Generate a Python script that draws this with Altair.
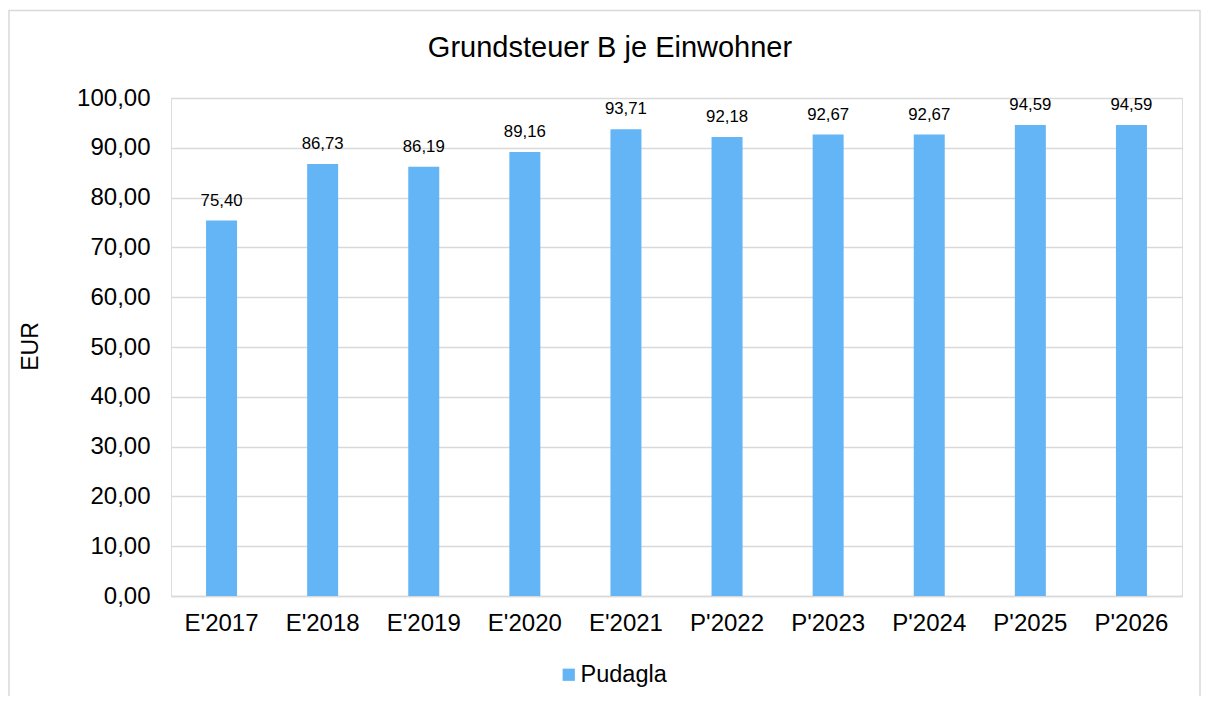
import altair as alt
import pandas as pd

categories = ["E'2017", "E'2018", "E'2019", "E'2020", "E'2021",
              "P'2022", "P'2023", "P'2024", "P'2025", "P'2026"]
values = [75.40, 86.73, 86.19, 89.16, 93.71, 92.18, 92.67, 92.67, 94.59, 94.59]
series = ["Pudagla"] * len(categories)

df = pd.DataFrame({"Jahr": categories, "Wert": values, "Serie": series})

FONT = "Liberation Sans"
W, H = 1011, 498
PL, PT, PR, PB = 163, 90, 20, 100
BLUE = "#64B5F6"
GRID = "#D9D9D9"

base = alt.Chart(df)

bars = base.mark_bar(size=31, color=BLUE).encode(
    x=alt.X("Jahr:N", sort=categories, title=None,
            scale=alt.Scale(paddingInner=0, paddingOuter=0),
            axis=alt.Axis(labelAngle=0, labelFontSize=24, labelFont=FONT,
                          labelColor="#000000", labelPadding=15, ticks=False,
                          domain=True, domainColor=GRID, domainWidth=1.5,
                          grid=False)),
    y=alt.Y("Wert:Q", title="EUR",
            scale=alt.Scale(domain=[0, 100], nice=False),
            axis=alt.Axis(values=list(range(0, 101, 10)),
                          labelExpr="replace(format(datum.value, '.2f'), '.', ',')",
                          labelFontSize=24, labelFont=FONT, labelColor="#000000",
                          labelPadding=21, ticks=False, domain=False,
                          grid=True, gridColor=GRID, gridWidth=1.5,
                          titleFontSize=23, titleFont=FONT, titleFontWeight="normal",
                          titleColor="#000000", titleX=-141, titleY=248,
                          titleAngle=-90, titleAlign="center", titleBaseline="middle")),
    color=alt.Color("Serie:N", scale=alt.Scale(domain=["Pudagla"], range=[BLUE]),
                    legend=alt.Legend(title=None, orient="none", legendX=386, legendY=565,
                                      symbolType="square", symbolSize=150,
                                      symbolStrokeWidth=0, labelFontSize=23.5,
                                      labelFont=FONT, labelColor="#000000",
                                      padding=0, labelOffset=0)),
)

labels = base.transform_calculate(
    lab="replace(format(datum.Wert, '.2f'), '.', ',')"
).mark_text(font=FONT, fontSize=16.8, color="#000000", baseline="alphabetic", dy=-15).encode(
    x=alt.X("Jahr:N", sort=categories),
    y=alt.Y("Wert:Q"),
    text="lab:N",
)

title = alt.Chart(pd.DataFrame({"t": ["Grundsteuer B je Einwohner"]})).mark_text(
    font=FONT, fontSize=29, color="#000000", baseline="middle", align="center"
).encode(x=alt.value(439), y=alt.value(-50), text="t:N")

border = alt.Chart(pd.DataFrame({"a": [0]})).mark_rect(
    fill=None, stroke=GRID, strokeWidth=1.5
).encode(x=alt.value(-PL + 1), x2=alt.value(W + PR - 2),
         y=alt.value(-PT + 2.5), y2=alt.value(H + PB + 10))

chart = alt.layer(border, bars, labels, title).properties(
    width=W, height=H,
    padding={"left": PL, "top": PT, "right": PR, "bottom": PB},
    autosize=alt.AutoSizeParams(type="none"),
).configure_view(stroke=None).configure(background="#ffffff")

chart.save("out.html", embed_options={"renderer": "svg", "actions": False})
